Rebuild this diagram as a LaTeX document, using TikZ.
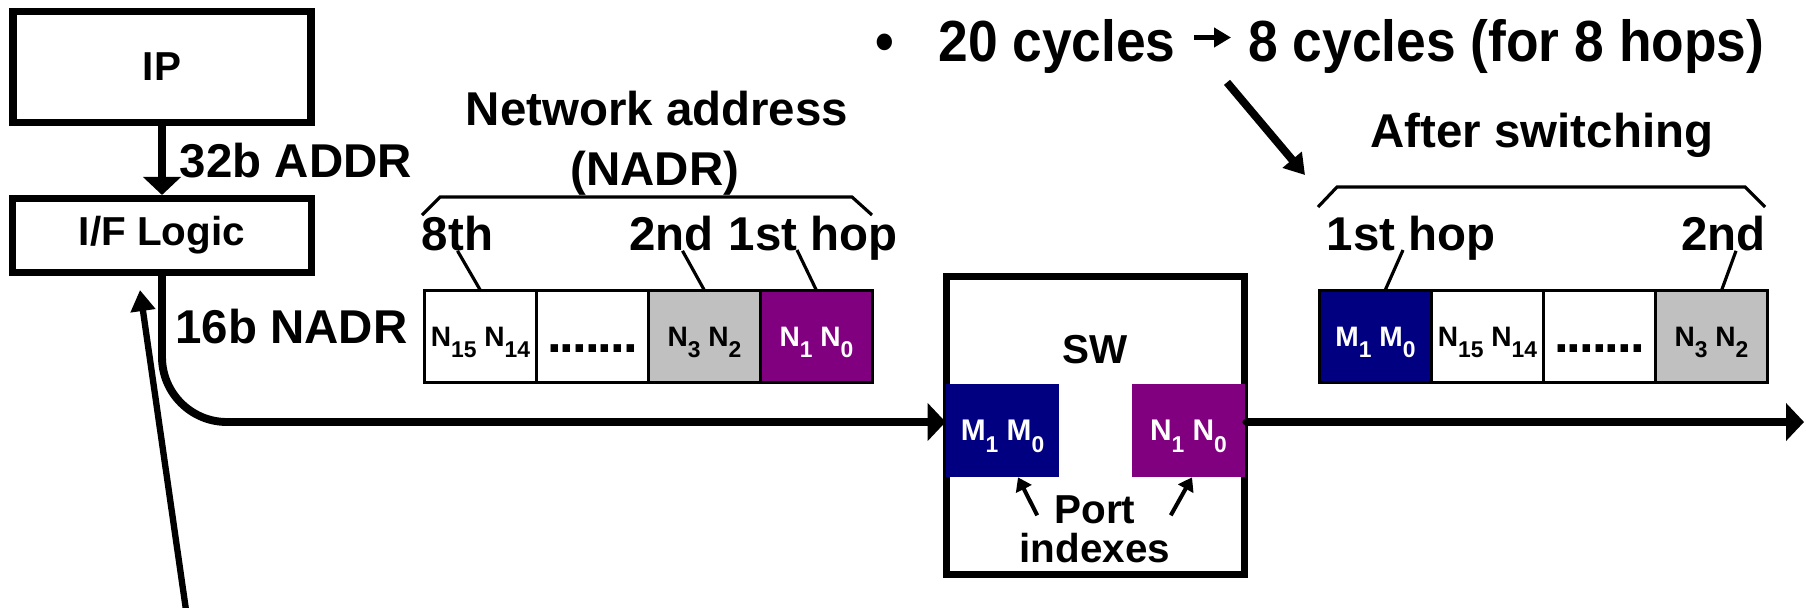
\documentclass[tikz,border=0pt]{standalone}
\usepackage{fontspec}
\setmainfont{Liberation Sans}
\newfontfamily\condfont{Liberation Sans}[FakeStretch=0.92]
\usepackage{tikz}
\usetikzlibrary{positioning, arrows.meta}

\definecolor{portnavy}{HTML}{000080}
\definecolor{portpurple}{HTML}{800080}
\definecolor{hopgray}{HTML}{C0C0C0}

% 下标 (subscript for the port index digits)
\newcommand{\subidx}[1]{\raisebox{-6.6pt}{\fontsize{13}{13}\selectfont #1}}
% 省略号 (dots in the address cell)
\newcommand{\celldots}{\raisebox{-3.6pt}{\fontsize{30}{30}\selectfont .\kern-1.1pt.\kern-1.1pt.\kern-1.1pt.\kern-1.1pt.\kern-1.1pt.\kern-1.1pt.}\vphantom{N}}

\begin{document}
\begin{tikzpicture}[
    box/.style={draw, line width=4pt, inner sep=0pt, font=\bfseries\fontsize{23}{23}\selectfont},
    lbl/.style={inner sep=0pt, font=\bfseries\fontsize{27}{27}\selectfont},
    toplbl/.style={inner sep=0pt, text depth=0pt, font=\condfont\bfseries\fontsize{33}{33}\selectfont},
    cell/.style={draw, line width=1.8pt, minimum width=2.24cm, minimum height=1.84cm, inner sep=0pt, outer sep=0pt, text depth=0pt, font=\bfseries\fontsize{16}{16}\selectfont},
    port/.style={minimum width=2.26cm, minimum height=1.86cm, inner sep=0pt, text depth=0pt, text=white, font=\bfseries\fontsize{17}{17}\selectfont},
    fat/.style={line width=4.5pt, -{Triangle[length=0.36cm, width=0.74cm]}},
    lead/.style={line width=1.8pt},
    ptr/.style={line width=2.3pt, -{Triangle[length=0.26cm, width=0.34cm]}},
    thinarr/.style={line width=3.6pt, -{Triangle[length=0.42cm, width=0.48cm]}}
]
    \useasboundingbox (0,0) rectangle (36.12,-12.14);
    % --- 左侧：IP 与接口逻辑 (IP and I/F logic) ---
    \node[box, minimum width=5.96cm, minimum height=2.22cm] (ip) at (3.24,-1.34) {IP};
    \node[box, minimum width=5.97cm, minimum height=1.48cm] (ifl) at (3.24,-4.71) {I/F Logic};
    \draw[fat] (ip) -- node[lbl, right=0.28cm] (addrlbl) {32b ADDR} (ifl);
    \node[lbl, anchor=base west] (nadrbits) at (3.5,-6.86) {16b NADR};
    % 从下方回到接口逻辑的细箭头
    \coordinate (fbsrc) at (3.72,-12.2);
    \draw[thinarr] (fbsrc) -- ([shift={(-0.44,-0.28)}]ifl.south);
    % --- 中间：交换机 (switch) ---
    \node[box, minimum width=5.96cm, minimum height=5.96cm] (sw) at (21.91,-8.51) {};
    \node[lbl, font=\bfseries\fontsize{23}{23}\selectfont, anchor=base] (swlbl) at (21.91,-7.26) {SW};
    \node[port, fill=portnavy] (mport) at (20.05,-8.61) {M\subidx{1} M\subidx{0}};
    \node[port, fill=portpurple] (nport) at (23.77,-8.61) {N\subidx{1} N\subidx{0}};
    \node[lbl, font=\bfseries\fontsize{23}{23}\selectfont, anchor=base] (port) at (21.9,-10.46) {Port};
    \node[lbl, font=\bfseries\fontsize{23}{23}\selectfont, anchor=base] (idx) at (21.9,-11.24) {indexes};
    \draw[ptr] ([shift={(-0.34,-0.12)}]port.west) -- ([xshift=0.31cm]mport.south);
    \draw[ptr] ([shift={(0.7,-0.12)}]port.east) -- ([xshift=0.07cm]nport.south);
    % 主数据通路 (main path)
    \draw[fat, rounded corners=1.3cm] (ifl.south) |- ([yshift=0.17cm]mport.west);
    \coordinate (outend) at (36.08,-8.44);
    \draw[fat] ([yshift=0.17cm]nport.east) -- (outend);
    \fill ([yshift=0.17cm]nport.east) circle (0.06cm);
    % --- 网络地址 (NADR) ---
    \node[lbl, anchor=base] (netaddr) at (13.14,-2.5) {Network address};
    \node[lbl, anchor=base] (nadrlbl) at (13.1,-3.7) {(NADR)};
    \draw[lead] (8.44,-4.3) -- (8.8,-3.94) -- (17.04,-3.94) -- (17.44,-4.3);
    \node[cell] (nadr15) at (9.61,-6.73) {N\subidx{15} N\subidx{14}};
    \node[cell, right=0pt of nadr15] (nadrdots) {\celldots};
    \node[cell, fill=hopgray, right=0pt of nadrdots] (nadr3) {N\subidx{3} N\subidx{2}};
    \node[cell, fill=portpurple, text=white, right=0pt of nadr3] (nadr1) {N\subidx{1} N\subidx{0}};
    \node[lbl, anchor=base] (l8th) at (9.15,-5.0) {8th};
    \node[lbl, anchor=base] (l2nd) at (13.43,-5.0) {2nd};
    \node[lbl, anchor=base] (lhop1) at (16.26,-5.0) {1st hop};
    \draw[lead] (l8th.south) -- (nadr15.north);
    \draw[lead] ([xshift=0.22cm]l2nd.south) -- (nadr3.north);
    \draw[lead] ([xshift=-0.32cm]lhop1.base) -- (nadr1.north);
    % --- 右侧：交换后 (after switching) ---
    \node[toplbl, anchor=base] (bul) at (17.7,-1.22) {•};
    \node[toplbl, anchor=base west] (cyc20) at (18.76,-1.22) {20 cycles};
    \node[toplbl, anchor=base west] (cyc8) at (24.96,-1.22) {8 cycles (for 8 hops)};
    \draw[line width=2.8pt, -{Triangle[length=0.34cm, width=0.38cm]}, shorten <=0.36cm, shorten >=0.34cm] ([yshift=0.05cm]cyc20.east) -- ([yshift=0.05cm]cyc8.west);
    \coordinate (hopdst) at (26.1,-3.5);
    \draw[line width=4.5pt, -{Triangle[length=0.4cm, width=0.48cm]}] ([shift={(-0.42,-0.42)}]cyc8.south west) -- (hopdst);
    \node[lbl, anchor=base] (aftlbl) at (30.84,-2.94) {After switching};
    \draw[lead] (26.36,-4.14) -- (26.74,-3.74) -- (34.9,-3.74) -- (35.3,-4.14);
    \node[cell, fill=portnavy, text=white] (aft1) at (27.51,-6.73) {M\subidx{1} M\subidx{0}};
    \node[cell, right=0pt of aft1] (aft15) {N\subidx{15} N\subidx{14}};
    \node[cell, right=0pt of aft15] (aftdots) {\celldots};
    \node[cell, fill=hopgray, right=0pt of aftdots] (aft3) {N\subidx{3} N\subidx{2}};
    \node[lbl, anchor=base] (ahop1) at (28.22,-5.0) {1st hop};
    \node[lbl, anchor=base] (a2nd) at (34.47,-5.0) {2nd};
    \draw[lead] ([xshift=-0.16cm]ahop1.base) -- ([xshift=0.19cm]aft1.north);
    \draw[lead] ([xshift=0.25cm]a2nd.south) -- ([xshift=0.2cm]aft3.north);
\end{tikzpicture}
\end{document}
